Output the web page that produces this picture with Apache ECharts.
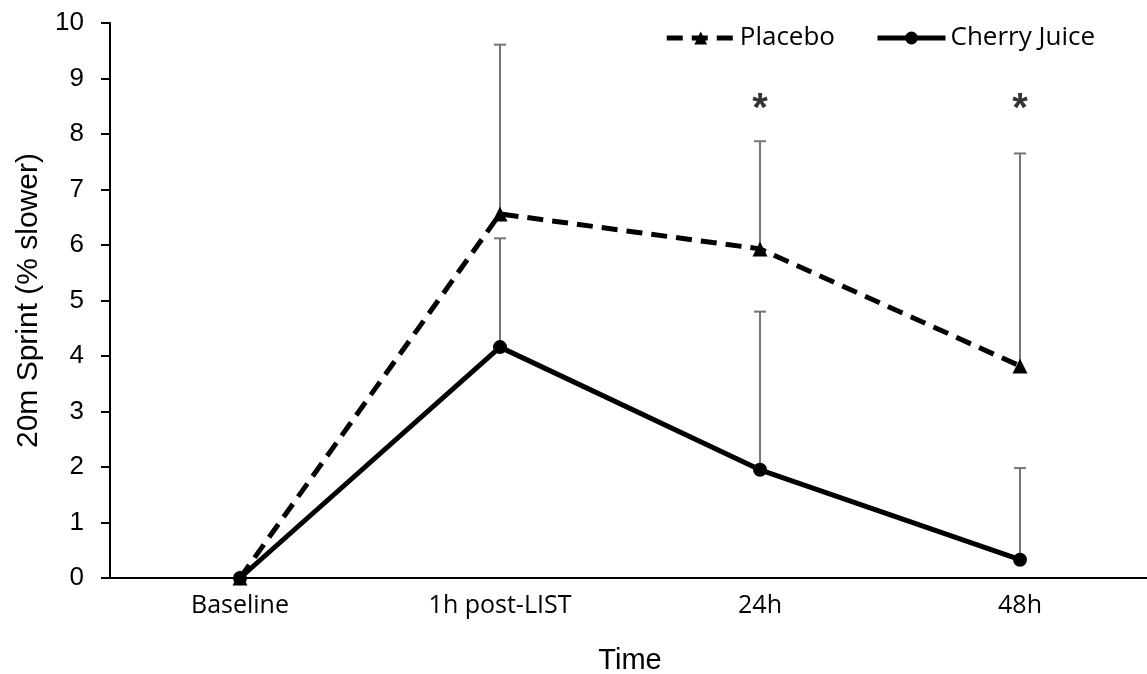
<!DOCTYPE html>
<html><head><meta charset="utf-8">
<script src="https://cdn.jsdelivr.net/npm/echarts@6/dist/echarts.min.js"></script>
<style>html,body{margin:0;padding:0;background:#fff}#c{width:1147px;height:674px}</style>
</head><body><div id="c"></div>
<script>
const categories = ['Baseline', '1h post-LIST', '24h', '48h'];
const placeboMean = [0, 6.56, 5.93, 3.82];
const placeboErr = [0, 3.05, 1.94, 3.83];
const cherryMean = [0, 4.16, 1.95, 0.33];
const cherryErr = [0, 1.96, 2.85, 1.65];
const asteriskIdx = [2, 3];
const asteriskY = 8.55;
const yTicks = [0,1,2,3,4,5,6,7,8,9,10];

const chart = echarts.init(document.getElementById('c'));
function errSeries(name, mean, err) {
  return {
    type: 'custom', name: name, silent: true, z: 1,
    data: mean.map((m, i) => [i, m, m + err[i]]),
    renderItem: function (params, api) {
      if (api.value(2) === api.value(1)) return null;
      const lo = api.coord([api.value(0), api.value(1)]);
      const hi = api.coord([api.value(0), api.value(2)]);
      const st = { stroke: '#767676', lineWidth: 2 };
      return { type: 'group', children: [
        { type: 'line', shape: { x1: lo[0], y1: lo[1], x2: hi[0], y2: hi[1] }, style: st },
        { type: 'line', shape: { x1: hi[0] - 6, y1: hi[1], x2: hi[0] + 6, y2: hi[1] }, style: st }
      ]};
    }
  };
}
const cal = 'Open Sans, sans-serif';
const ari = 'Liberation Sans, Arial, sans-serif';
chart.setOption({
  animation: false,
  grid: { left: 110, top: 23, width: 1040, bottom: 96, containLabel: false, outerBoundsMode: 'none' },
  legend: {
    top: 20, right: 47, itemWidth: 68, itemHeight: 16, itemGap: 40,
    lineStyle: { width: 5 },
    textStyle: { fontFamily: cal, fontSize: 26, color: '#000' },
    data: ['Placebo', 'Cherry Juice']
  },
  xAxis: {
    type: 'category', data: categories, boundaryGap: true,
    name: 'Time', nameLocation: 'middle', nameGap: 68,
    nameTextStyle: { fontFamily: ari, fontSize: 29, color: '#000' },
    axisLine: { lineStyle: { color: '#000', width: 2 } },
    axisTick: { alignWithLabel: true, length: 8, lineStyle: { color: '#000', width: 2 } },
    axisLabel: { fontFamily: cal, fontSize: 25, color: '#000', margin: 15 }
  },
  yAxis: {
    type: 'value', min: 0, max: 10, interval: 1,
    name: '20m Sprint (% slower)', nameLocation: 'middle', nameGap: 64,
    nameTextStyle: { fontFamily: ari, fontSize: 30, color: '#000' },
    axisLine: { show: true, lineStyle: { color: '#000', width: 2 } },
    axisTick: { show: true, length: 9, lineStyle: { color: '#000', width: 2 } },
    splitLine: { show: false },
    axisLabel: { fontFamily: ari, fontSize: 26, color: '#000', margin: 26,
      formatter: v => yTicks.includes(v) ? String(v) : '' }
  },
  series: [
    errSeries('placeboErr', placeboMean, placeboErr),
    errSeries('cherryErr', cherryMean, cherryErr),
    {
      name: 'Placebo', type: 'line', data: placeboMean, z: 3,
      symbol: 'triangle', symbolSize: 15,
      lineStyle: { color: '#000', width: 5, type: [16, 9] },
      itemStyle: { color: '#000' }
    },
    {
      name: 'Cherry Juice', type: 'line', data: cherryMean, z: 4,
      symbol: 'circle', symbolSize: 14,
      lineStyle: { color: '#000', width: 5 },
      itemStyle: { color: '#000' }
    },
    {
      name: 'sig', type: 'scatter', symbol: 'circle', symbolSize: 1, silent: true,
      itemStyle: { color: 'rgba(0,0,0,0)' },
      data: asteriskIdx.map(i => [i, asteriskY]),
      label: { show: true, position: 'inside', formatter: '*', fontFamily: ari, fontWeight: 'bold', fontSize: 40, color: '#000', offset: [0, 6] }
    }
  ]
});
</script></body></html>
